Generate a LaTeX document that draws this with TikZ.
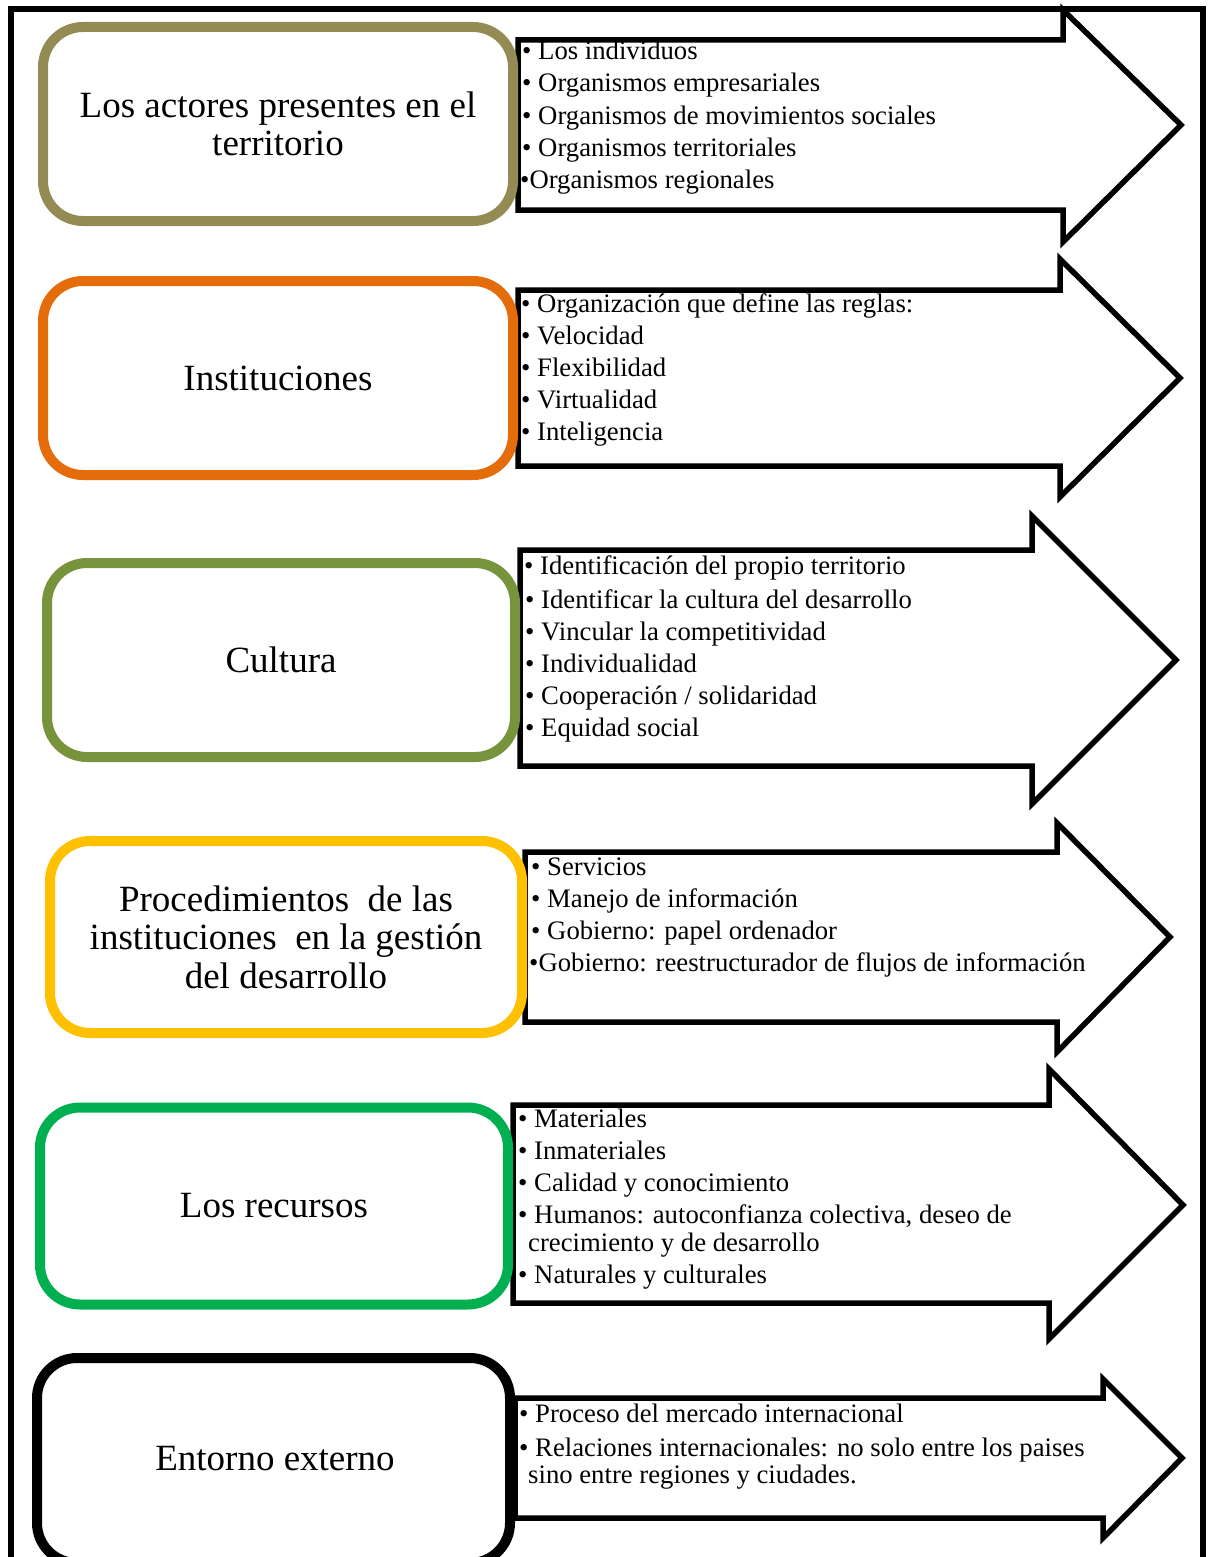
\documentclass[tikz,border=0pt]{standalone}
\usepackage{fontspec}
\setmainfont{Liberation Serif}
\definecolor{olive}{HTML}{948A54}
\definecolor{orng}{HTML}{E46C0A}
\definecolor{grn}{HTML}{77933C}
\definecolor{yel}{HTML}{FFC000}
\definecolor{brightgrn}{HTML}{00B050}
\tikzset{
  box/.style={draw, line width=10pt, rounded corners=40pt, fill=white, inner sep=0pt},
  arr/.style={draw=black, line width=5.5pt, fill=white, line join=miter},
  lbl/.style={font=\fontsize{37}{38.5}\selectfont, align=center},
  itm/.style={anchor=base west, font=\fontsize{26.7}{30}\selectfont, inner sep=0pt},
  frame/.style={draw=black, line width=6.5pt}
}
\begin{document}
\begin{tikzpicture}[x=1pt,y=-1pt]
\useasboundingbox (0,0) rectangle (1209,1557);
% frame
\draw[frame] (11,1560) -- (11,9) -- (1203,9) -- (1203,1560);

% arrows
\draw[arr] (518,40) -- (1063,40) -- (1063,10) -- (1181,125) -- (1063,242) -- (1063,210) -- (518,210) -- cycle;
\draw[arr] (518,290) -- (1060,290) -- (1060,259) -- (1180,378) -- (1060,497) -- (1060,466) -- (518,466) -- cycle;
\draw[arr] (520,550) -- (1032,550) -- (1032,516) -- (1176,660) -- (1032,804) -- (1032,766) -- (520,766) -- cycle;
\draw[arr] (525,852) -- (1057,852) -- (1057,823) -- (1170,937) -- (1057,1052) -- (1057,1022) -- (525,1022) -- cycle;
\draw[arr] (513,1105) -- (1049,1105) -- (1049,1069) -- (1183,1205) -- (1049,1339) -- (1049,1303) -- (513,1303) -- cycle;
\draw[arr] (515,1398) -- (1103,1398) -- (1103,1379) -- (1182,1458) -- (1103,1538) -- (1103,1518) -- (515,1518) -- cycle;

% boxes
\node[box, draw=olive, minimum width=470pt, minimum height=194pt] (b1) at (278,124) {};
\node[lbl] (l1) at (b1) {Los actores presentes en el\\territorio};
\node[box, draw=orng, minimum width=470pt, minimum height=194pt] (b2) at (278,378) {};
\node[lbl] (l2) at (b2) {Instituciones};
\node[box, draw=grn, minimum width=468pt, minimum height=194pt] (b3) at (281,660) {};
\node[lbl] (l3) at (b3) {Cultura};
\node[box, draw=yel, minimum width=472pt, minimum height=192pt] (b4) at (286,937) {};
\node[lbl] (l4) at (b4) {Procedimientos\ \ de las\\instituciones\ \ en la gestión\\del desarrollo};
\node[box, draw=brightgrn, minimum width=468pt, minimum height=197pt] (b5) at (274,1206) {};
\node[lbl] (l5) at (b5) {Los recursos};
\node[box, draw=black, minimum width=473pt, minimum height=205pt] (b6) at (273.5,1460.5) {};
\node[lbl] (l6) at (275,1459) {Entorno externo};

% items row 1
\node[itm] (a1) at (522,60) {• Los individuos};
\node[itm] (a2) at (522,92) {• Organismos empresariales};
\node[itm] (a3) at (522,125) {• Organismos de movimientos sociales};
\node[itm] (a4) at (522,157) {• Organismos territoriales};
\node[itm] (a5) at (520,189) {•Organismos regionales};
% row 2
\node[itm] (c1) at (521,312) {• Organización que define las reglas:};
\node[itm] (c2) at (521,344) {• Velocidad};
\node[itm] (c3) at (521,376) {• Flexibilidad};
\node[itm] (c4) at (521,408) {• Virtualidad};
\node[itm] (c5) at (521,440) {• Inteligencia};
% row 3
\node[itm] (d1) at (524,574) {• Identificación del propio territorio};
\node[itm] (d2) at (525,608) {• Identificar la cultura del desarrollo};
\node[itm] (d3) at (525,640) {• Vincular la competitividad};
\node[itm] (d4) at (525,672) {• Individualidad};
\node[itm] (d5) at (525,704) {• Cooperación / solidaridad};
\node[itm] (d6) at (525,736) {• Equidad social};
% row 4
\node[itm] (e1) at (531,875) {• Servicios};
\node[itm] (e2) at (531,907) {• Manejo de información};
\node[itm] (e3) at (531,939) {• Gobierno: papel ordenador};
\node[itm] (e4) at (529,971) {•Gobierno: reestructurador de flujos de información};
% row 5
\node[itm] (f1) at (518,1127) {• Materiales};
\node[itm] (f2) at (518,1159) {• Inmateriales};
\node[itm] (f3) at (518,1191) {• Calidad y conocimiento};
\node[itm] (f4) at (518,1223) {• Humanos: autoconfianza colectiva, deseo de};
\node[itm] (f5) at (528,1251) {crecimiento y de desarrollo};
\node[itm] (f6) at (518,1283) {• Naturales y culturales};
% row 6
\node[itm] (g1) at (519,1422) {• Proceso del mercado internacional};
\node[itm] (g2) at (519,1456) {• Relaciones internacionales: no solo entre los paises};
\node[itm] (g3) at (528,1483) {sino entre regiones y ciudades.};
\end{tikzpicture}
\end{document}
